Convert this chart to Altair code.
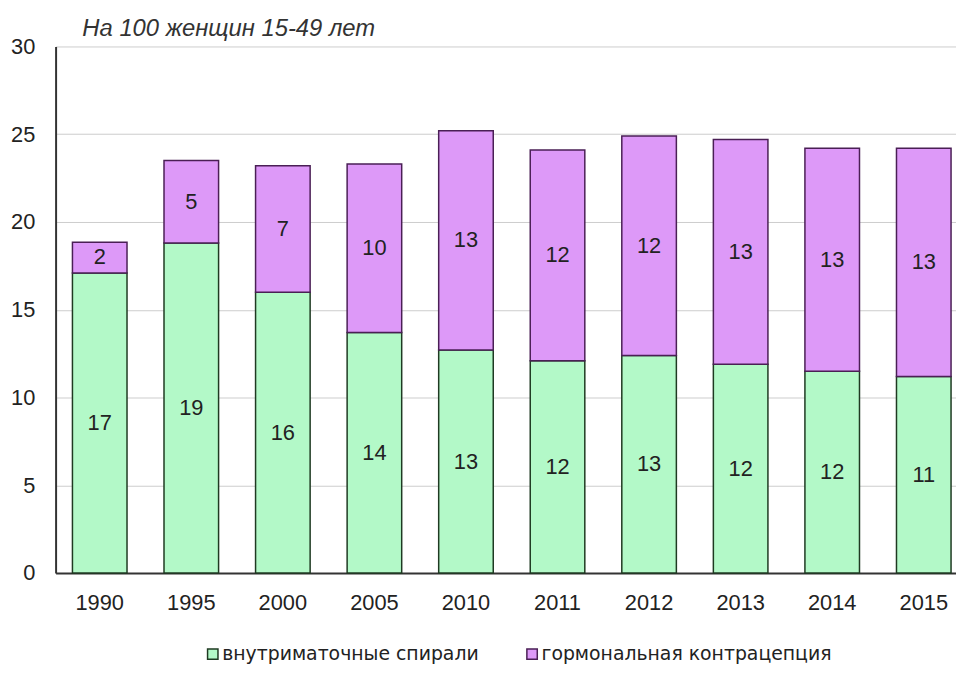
import altair as alt
import pandas as pd

years = ["1990", "1995", "2000", "2005", "2010", "2011", "2012", "2013", "2014", "2015"]
iud = [17.1, 18.8, 16.0, 13.7, 12.7, 12.1, 12.4, 11.9, 11.5, 11.2]
hormonal = [1.75, 4.7, 7.2, 9.6, 12.5, 12.0, 12.5, 12.8, 12.7, 13.0]
iud_labels = [17, 19, 16, 14, 13, 12, 13, 12, 12, 11]
hormonal_labels = [2, 5, 7, 10, 13, 12, 12, 13, 13, 13]
series = ["внутриматочные спирали", "гормональная контрацепция"]
fills = ["#b3f9c8", "#dd99f8"]
strokes = ["#1f3a22", "#4a1f55"]
y_ticks = [0, 5, 10, 15, 20, 25, 30]
title_text = "На 100 женщин 15-49 лет"

FONT = "Liberation Sans"
LEGEND_FONT = "DejaVu Sans"

rows = []
for i, yr in enumerate(years):
    rows.append(dict(year=yr, series=series[0], value=iud[i], label=iud_labels[i], order=0))
    rows.append(dict(year=yr, series=series[1], value=hormonal[i], label=hormonal_labels[i], order=1))
df = pd.DataFrame(rows)

base = alt.Chart(df).transform_stack(
    stack="value", groupby=["year"], as_=["v0", "v1"], sort=[alt.SortField("order")]
).transform_calculate(mid="(datum.v0 + datum.v1) / 2")

x_enc = alt.X(
    "year:N",
    sort=years,
    scale=alt.Scale(range=[0, 920], paddingInner=0.404, paddingOuter=0.184),
    axis=alt.Axis(
        title=None, labelAngle=0, labelFont=FONT, labelFontSize=22, labelColor="#222",
        labelPadding=20, ticks=False, domainColor="#333", domainWidth=2, grid=False,
    ),
)

y_enc = alt.Y(
    "v0:Q",
    scale=alt.Scale(domain=[0, 30], nice=False),
    axis=alt.Axis(
        values=y_ticks, title=None, labelFont=FONT, labelFontSize=22, labelColor="#222",
        labelPadding=21, ticks=False, domainColor="#333", domainWidth=2,
        gridColor="#cccccc", gridWidth=1,
    ),
)

legend = alt.Legend(
    orient="none", legendX=149, legendY=603, direction="horizontal", title=None,
    symbolType="square", symbolSize=110, labelFont=LEGEND_FONT, labelFontSize=19,
    labelColor="#222", columnPadding=44, gridAlign="each", labelLimit=500, labelOffset=0,
    symbolStrokeWidth=1.5,
)

bars = base.mark_bar(strokeWidth=1.5).encode(
    x=x_enc,
    y=y_enc,
    y2="v1:Q",
    fill=alt.Fill("series:N", sort=series, scale=alt.Scale(domain=series, range=fills), legend=legend),
    stroke=alt.Stroke("series:N", sort=series, scale=alt.Scale(domain=series, range=strokes), legend=legend),
)

labels = base.mark_text(font=FONT, fontSize=22, color="#222").encode(
    x=alt.X("year:N", sort=years),
    y=alt.Y("mid:Q"),
    text="label:N",
)

title = alt.Chart(pd.DataFrame({"t": [title_text]})).mark_text(
    align="left", baseline="alphabetic", font=FONT, fontStyle="italic", fontSize=24,
    color="#333", x=27, y=-11,
).encode(text="t:N")

chart = alt.layer(bars, labels, title).properties(
    width=908,
    height=531,
    autosize=alt.AutoSizeParams(type="none"),
    padding={"left": 48, "top": 36, "right": 0, "bottom": 95},
).configure_view(stroke=None)

chart.save("out.html", embed_options={"renderer": "svg", "actions": False})
